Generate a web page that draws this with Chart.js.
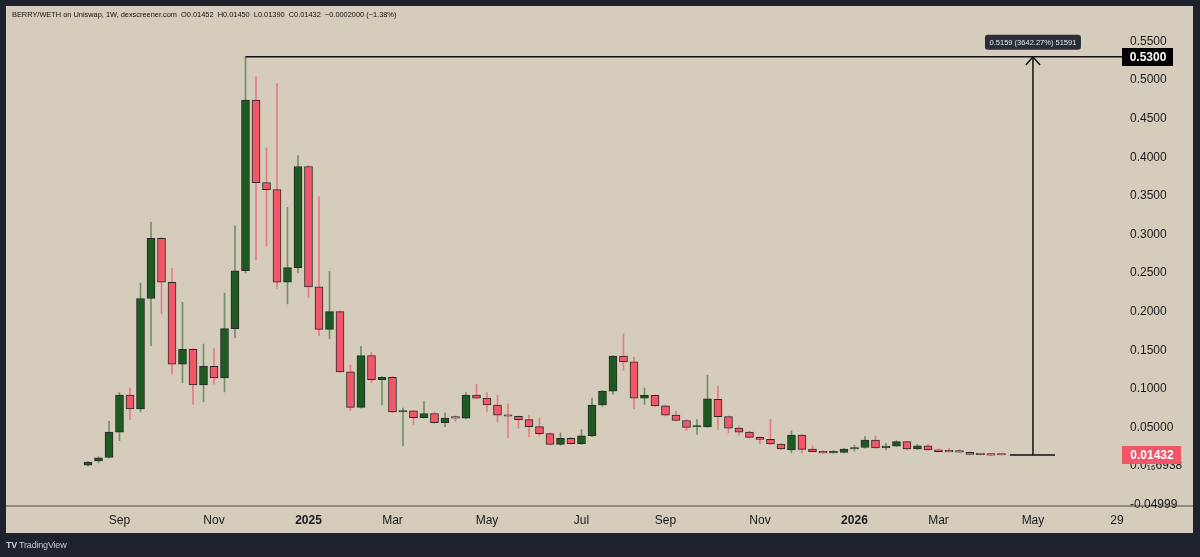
<!DOCTYPE html>
<html>
<head>
<meta charset="utf-8">
<script src="https://cdn.jsdelivr.net/npm/chart.js@4/dist/chart.umd.min.js"></script>
<style>
  html, body { margin: 0; padding: 0; background: #1e222d; }
  #wrap { position: relative; width: 1200px; height: 557px; overflow: hidden; }
  #panel { position: absolute; left: 6px; top: 6px; width: 1187px; height: 527px; background: #d5ccbb; }
  #sep { position: absolute; left: 6px; top: 505px; width: 1187px; height: 2px; background: #8e8981; }
  #chart { position: absolute; left: 0; top: 0; }
  #hdr { position: absolute; left: 12px; top: 10px; font: 7.4px 'Liberation Sans', Arial, sans-serif; color: #111; white-space: pre; }
  #logo { position: absolute; left: 6px; top: 540px; font: 9px 'Liberation Sans', Arial, sans-serif; color: #c8cbd2; letter-spacing: -0.2px; }
  #logo b { font-weight: 900; margin-right: 2px; }
</style>
</head>
<body>
<div id="wrap">
  <div id="panel"></div>
  <div id="sep"></div>
  <canvas id="chart" width="1200" height="557"></canvas>
  <div id="hdr">BERRY/WETH on Uniswap, 1W, dexscreener.com  O0.01452  H0.01450  L0.01390  C0.01432  −0.0002000 (−1.38%)</div>
  <div id="logo"><b>TV</b>TradingView</div>
</div>
<script>
// weekly candles, Aug 2024 -> Apr 2026 (x = week index)
var opens = [
  0.001, 0.0065, 0.011, 0.044, 0.092, 0.074, 0.217, 0.295, 0.238, 0.132,
  0.151, 0.105, 0.129, 0.114, 0.178, 0.253, 0.474, 0.367, 0.358, 0.238,
  0.257, 0.388, 0.232, 0.177, 0.200, 0.122, 0.076, 0.143, 0.112, 0.115,
  0.070, 0.0715, 0.0625, 0.068, 0.056, 0.0625, 0.062, 0.092, 0.088, 0.079,
  0.066, 0.0645, 0.060, 0.051, 0.042, 0.028, 0.036, 0.029, 0.039, 0.079,
  0.097, 0.1425, 0.135, 0.088, 0.0915, 0.078, 0.066, 0.059, 0.0505, 0.0505,
  0.0865, 0.064, 0.049, 0.044, 0.037, 0.0345, 0.0285, 0.021, 0.040, 0.022,
  0.019, 0.0170, 0.0175, 0.022, 0.024, 0.0335, 0.0237, 0.0258, 0.0315, 0.022,
  0.026, 0.021, 0.0188, 0.0183, 0.0178, 0.0150, 0.0152, 0.01452
];
var highs = [
  0.006, 0.012, 0.058, 0.095, 0.101, 0.237, 0.316, 0.296, 0.256, 0.212,
  0.152, 0.158, 0.152, 0.224, 0.311, 0.530, 0.504, 0.412, 0.495, 0.335,
  0.402, 0.389, 0.349, 0.252, 0.201, 0.131, 0.155, 0.147, 0.116, 0.116,
  0.075, 0.072, 0.084, 0.070, 0.069, 0.065, 0.095, 0.106, 0.095, 0.092,
  0.081, 0.065, 0.066, 0.062, 0.043, 0.043, 0.037, 0.047, 0.088, 0.098,
  0.143, 0.171, 0.141, 0.101, 0.092, 0.079, 0.071, 0.060, 0.060, 0.1175,
  0.1035, 0.065, 0.052, 0.045, 0.038, 0.0605, 0.029, 0.0455, 0.041, 0.026,
  0.020, 0.020, 0.023, 0.027, 0.038, 0.039, 0.0294, 0.033, 0.032, 0.028,
  0.0285, 0.0225, 0.023, 0.0215, 0.018, 0.016, 0.0155, 0.01450
];
var lows = [
  0.000, 0.004, 0.010, 0.033, 0.060, 0.070, 0.156, 0.197, 0.119, 0.108,
  0.080, 0.083, 0.106, 0.096, 0.166, 0.250, 0.267, 0.285, 0.230, 0.210,
  0.250, 0.218, 0.169, 0.165, 0.121, 0.072, 0.075, 0.108, 0.079, 0.069,
  0.026, 0.054, 0.062, 0.055, 0.051, 0.058, 0.061, 0.087, 0.070, 0.057,
  0.037, 0.049, 0.038, 0.039, 0.027, 0.027, 0.028, 0.028, 0.038, 0.077,
  0.093, 0.124, 0.074, 0.080, 0.077, 0.065, 0.058, 0.046, 0.041, 0.050,
  0.0475, 0.043, 0.040, 0.036, 0.0285, 0.028, 0.021, 0.017, 0.0165, 0.018,
  0.016, 0.0165, 0.017, 0.0195, 0.023, 0.023, 0.021, 0.025, 0.021, 0.021,
  0.0205, 0.018, 0.018, 0.0175, 0.0145, 0.0142, 0.0135, 0.01390
];
var closes = [
  0.005, 0.0105, 0.044, 0.092, 0.074, 0.217, 0.295, 0.238, 0.132, 0.151,
  0.105, 0.129, 0.114, 0.178, 0.253, 0.474, 0.367, 0.358, 0.238, 0.257,
  0.388, 0.232, 0.177, 0.200, 0.122, 0.076, 0.143, 0.112, 0.115, 0.070,
  0.071, 0.0625, 0.068, 0.056, 0.062, 0.062, 0.092, 0.088, 0.079, 0.066,
  0.0645, 0.060, 0.051, 0.042, 0.028, 0.036, 0.029, 0.039, 0.079, 0.097,
  0.1425, 0.135, 0.088, 0.0915, 0.078, 0.066, 0.059, 0.050, 0.0515, 0.087,
  0.064, 0.049, 0.044, 0.037, 0.0345, 0.0285, 0.022, 0.040, 0.0215, 0.0185,
  0.017, 0.0175, 0.022, 0.024, 0.0335, 0.0235, 0.0258, 0.0315, 0.022, 0.026,
  0.021, 0.0185, 0.0183, 0.0180, 0.0150, 0.0148, 0.0140, 0.01432
];

var xTickIdx    = [3, 12, 21, 29, 38, 47, 55, 64, 73, 81, 90, 98];
var xTickLabels = ['Sep', 'Nov', '2025', 'Mar', 'May', 'Jul', 'Sep', 'Nov', '2026', 'Mar', 'May', '29'];
var yTickValues = [-0.04999, 0, 0.05, 0.10, 0.15, 0.20, 0.25, 0.30, 0.35, 0.40, 0.45, 0.50, 0.55];
var yTickLabels = ['-0.04999', '0.0\u2081\u20866938', '0.05000', '0.1000', '0.1500', '0.2000', '0.2500',
                   '0.3000', '0.3500', '0.4000', '0.4500', '0.5000', '0.5500'];

// price range drawing: top level, bottom level, and where it sits
var rangeHigh = 0.53;
var rangeLow = 0.01432;
var rangeFromIdx = 15;
var rangeX = 90;
var rangeLeft = 87.8;
var rangeRight = 92.1;
var rangeText = '0.5159 (3642.27%) 51591';
var lastText = '0.01432';
var highText = '0.5300';

var X_MIN = -7.81, X_MAX = 98.48;
var Y_MIN = -0.0518, Y_MAX = 0.5959;
var FONT = "'Liberation Sans', Arial, sans-serif";

var UP = '#1d5a20', DOWN = '#f25767';
var UP_WICK = 'rgba(45,105,45,0.6)', DOWN_WICK = 'rgba(240,90,105,0.7)';

var up = closes.map(function (c, i) { return c >= opens[i]; });

var bodies = opens.map(function (o, i) { return { x: i, y: [o, closes[i]] }; });
var wicks = lows.map(function (l, i) { return { x: i, y: [l, highs[i]] }; });

var arrowDy = 0.0105, arrowDx = 0.68;

var labelsPlugin = {
    id: 'axisLabels',
    afterDraw: function (chart) {
        var ctx = chart.ctx;
        var ys = chart.scales.y, xs = chart.scales.x;
        ctx.save();
        // top level label
        var yh = ys.getPixelForValue(rangeHigh);
        ctx.fillStyle = '#000';
        ctx.fillRect(1122, Math.round(yh) - 9, 51, 18);
        ctx.fillStyle = '#fff';
        ctx.font = 'bold 12px ' + FONT;
        ctx.textAlign = 'center';
        ctx.textBaseline = 'middle';
        ctx.fillText(highText, 1148, yh + 0.5);
        // last price label
        var yl = ys.getPixelForValue(rangeLow);
        ctx.fillStyle = '#f0566a';
        ctx.fillRect(1122, Math.round(yl) - 9, 59, 18);
        ctx.fillStyle = '#fff';
        ctx.fillText(lastText, 1152, yl + 0.5);
        // range info box
        var cx = xs.getPixelForValue(rangeX);
        var bw = 96, bh = 15, bx = cx - bw / 2, by = yh - 22;
        ctx.fillStyle = '#2a2e39';
        ctx.beginPath();
        ctx.roundRect(bx, by, bw, bh, 3);
        ctx.fill();
        ctx.fillStyle = '#e8e9ec';
        ctx.font = '7.5px ' + FONT;
        ctx.fillText(rangeText, cx, by + bh / 2 + 0.5);
        ctx.restore();
    }
};

new Chart(document.getElementById('chart'), {
    type: 'bar',
    data: {
        datasets: [
            {
                type: 'line',
                data: [{ x: rangeFromIdx, y: rangeHigh }, { x: X_MAX, y: rangeHigh }],
                borderColor: '#111', borderWidth: 1.5, pointRadius: 0, order: 0
            },
            {
                type: 'line',
                data: [{ x: rangeLeft, y: rangeLow }, { x: rangeRight, y: rangeLow }],
                borderColor: '#111', borderWidth: 1.5, pointRadius: 0, order: 0
            },
            {
                type: 'line',
                data: [{ x: rangeX, y: rangeLow }, { x: rangeX, y: rangeHigh }],
                borderColor: '#111', borderWidth: 1.5, pointRadius: 0, order: 0
            },
            {
                type: 'line',
                data: [{ x: rangeX - arrowDx, y: rangeHigh - arrowDy }, { x: rangeX, y: rangeHigh },
                       { x: rangeX + arrowDx, y: rangeHigh - arrowDy }],
                borderColor: '#111', borderWidth: 1.5, pointRadius: 0, order: 0
            },
            {
                data: bodies,
                backgroundColor: up.map(function (u) { return u ? UP : DOWN; }),
                borderColor: '#2a2a2a',
                borderWidth: 1,
                borderSkipped: false,
                barThickness: 8,
                minBarLength: 1.5,
                grouped: false,
                order: 1
            },
            {
                data: wicks,
                backgroundColor: up.map(function (u) { return u ? UP_WICK : DOWN_WICK; }),
                borderWidth: 0,
                barThickness: 1,
                grouped: false,
                order: 2
            }
        ]
    },
    options: {
        responsive: false,
        animation: false,
        layout: { padding: { left: 6, top: 6, right: 7, bottom: 24 } },
        plugins: { legend: { display: false }, tooltip: { enabled: false } },
        scales: {
            x: {
                type: 'linear',
                offset: false,
                min: X_MIN,
                max: X_MAX,
                afterFit: function (s) {
                    s.height = 27;
                    s.paddingLeft = 0;
                    s.paddingRight = 0;
                },
                afterBuildTicks: function (s) {
                    s.ticks = xTickIdx.map(function (v) { return { value: v }; });
                },
                ticks: {
                    autoSkip: false,
                    maxRotation: 0,
                    padding: 7,
                    color: '#1a1a1a',
                    font: function (c) {
                        var lbl = c.tick ? xTickLabels[xTickIdx.indexOf(c.tick.value)] : '';
                        return { family: FONT, size: 12, weight: /^20\d\d$/.test(lbl) ? 'bold' : 'normal' };
                    },
                    callback: function (v) { return xTickLabels[xTickIdx.indexOf(v)]; }
                },
                grid: { display: false, drawTicks: false },
                border: { display: false }
            },
            y: {
                position: 'right',
                min: Y_MIN,
                max: Y_MAX,
                afterFit: function (s) {
                    s.width = 71;
                    s.paddingTop = 0;
                    s.paddingBottom = 0;
                },
                afterBuildTicks: function (s) {
                    s.ticks = yTickValues.map(function (v) { return { value: v }; });
                },
                ticks: {
                    padding: 8,
                    color: '#1a1a1a',
                    font: { family: FONT, size: 12 },
                    callback: function (v, i) { return yTickLabels[i]; }
                },
                grid: { display: false, drawTicks: false },
                border: { display: false }
            }
        }
    },
    plugins: [labelsPlugin]
});
</script>
</body>
</html>
